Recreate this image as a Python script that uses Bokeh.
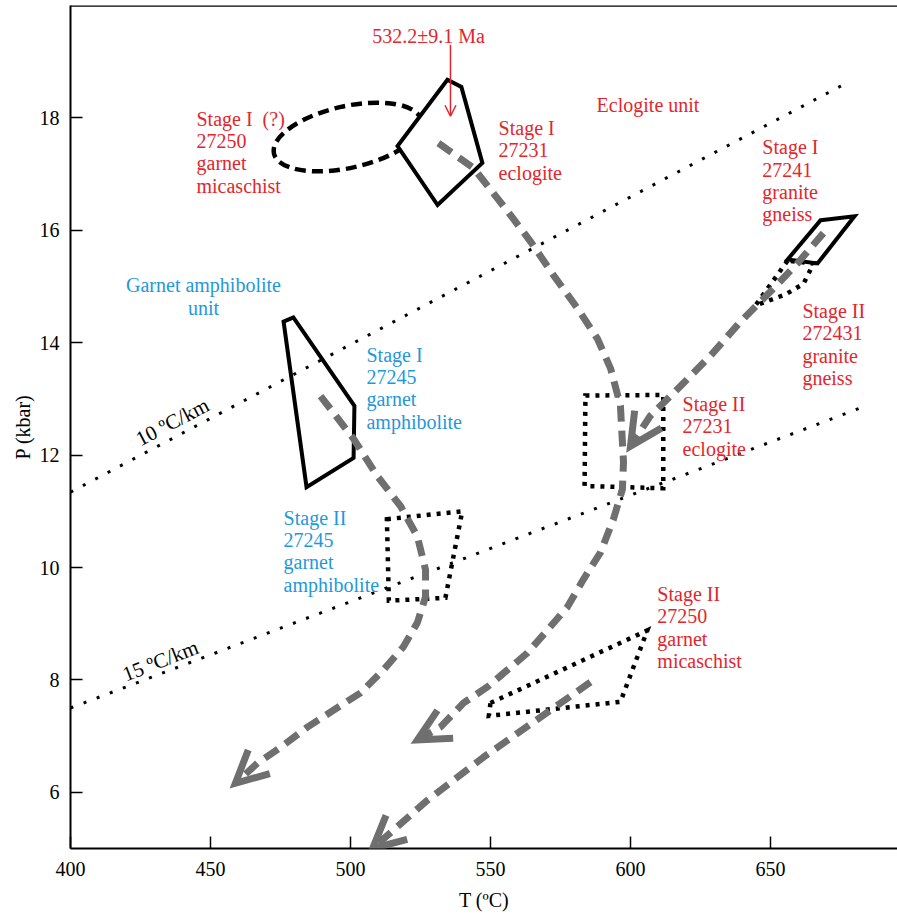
from bokeh.plotting import figure
from bokeh.models import Range1d, Span, Arrow, OpenHead, FixedTicker
from bokeh.core.properties import value
from bokeh.embed import file_html
from bokeh.resources import INLINE

# ---------------- data (T in degC, P in kbar) ----------------
x_ticks = [400, 450, 500, 550, 600, 650]
y_ticks = [6, 8, 10, 12, 14, 16, 18]

geo10_T = [400.0, 677.9]
geo10_P = [11.34, 18.64]
geo15_T = [400.0, 683.2]
geo15_P = [7.50, 12.86]

# Stage I (?) 27250 garnet micaschist ellipse: centre, size (degC, kbar), tilt
ell_T, ell_P, ell_w, ell_h, ell_tilt = 499.0, 17.66, 54.0, 1.10, 0.22

s1_27231_T = [534.6, 539.6, 547.1, 531.1, 516.8]
s1_27231_P = [18.68, 18.55, 17.20, 16.45, 17.50]

s1_27241_T = [667.9, 680.0, 666.8, 656.1]
s1_27241_P = [16.18, 16.25, 15.41, 15.48]

s2_272431_T = [656.1, 644.6, 655.4, 661.8, 665.4]
s2_272431_P = [15.46, 14.66, 14.86, 15.05, 15.41]

s1_27245_T = [476.1, 479.6, 501.4, 501.1, 484.3]
s1_27245_P = [14.375, 14.45, 12.875, 11.95, 11.43]

s2_27245_T = [513.0, 539.9, 533.9, 513.7]
s2_27245_P = [10.86, 11.00, 9.46, 9.41]

s2_27231_T = [583.9, 611.7, 611.7, 583.6]
s2_27231_P = [13.06, 13.07, 11.41, 11.45]

s2_27250_T = [550.0, 606.0, 596.4, 549.4]
s2_27250_P = [7.59, 8.88, 7.61, 7.36]

# retrograde P-T paths (grey dashed arrows)
path_ecl_T = [531.4, 543.9, 556.1, 564.3, 572.5, 581.1, 588.2, 592.9, 596.4, 597.5,
              597.1, 593.9, 589.3, 583.2, 577.5, 570.4, 563.2, 556.1, 548.9, 540.4,
              532.1, 523.9]
path_ecl_P = [17.55, 17.11, 16.34, 15.80, 15.20, 14.61, 14.07, 13.54, 12.88, 11.875,
              11.39, 10.86, 10.27, 9.79, 9.30, 8.89, 8.48, 8.18, 7.875, 7.59,
              7.16, 6.93]
path_amp_T = [489.3, 501.1, 509.6, 517.9, 523.9, 526.8, 526.8, 523.9, 518.9, 511.8,
              503.6, 493.9, 484.6, 475.0, 466.8, 458.9]
path_amp_P = [13.05, 12.29, 11.625, 11.09, 10.55, 9.96, 9.48, 9.02, 8.59, 8.18,
              7.77, 7.46, 7.16, 6.80, 6.52, 6.16]
path_gns_T = [668.9, 659.6, 650.0, 639.3, 628.6, 617.9, 607.1, 600.0]
path_gns_P = [15.95, 15.41, 14.91, 14.375, 13.77, 13.23, 12.70, 12.16]
path_mic_T = [585.7, 547.5, 527.5, 507.9]
path_mic_P = [7.96, 6.625, 5.86, 5.0]

# age arrow
age_T = [535.7, 535.7]
age_P = [19.30, 18.03]

red_text = ["Stage I\u00a0 (?)\n27250\ngarnet\nmicaschist",
            "Stage I\n27231\neclogite",
            "Eclogite unit",
            "Stage I\n27241\ngranite\ngneiss",
            "Stage II\n272431\ngranite\ngneiss",
            "Stage II\n27231\neclogite",
            "Stage II\n27250\ngarnet\nmicaschist"]
red_T = [445.0, 552.9, 587.9, 647.1, 661.4, 618.6, 609.6]
red_P = [17.39, 17.42, 18.23, 16.88, 13.97, 12.51, 8.93]

age_text = "532.2±9.1 Ma"
age_text_T, age_text_P = 527.9, 19.46

blue_unit_text = "Garnet amphibolite\nunit"
blue_unit_T, blue_unit_P = 447.5, 14.82
blue_text = ["Stage I\n27245\ngarnet\namphibolite",
             "Stage II\n27245\ngarnet\namphibolite"]
blue_T = [505.7, 476.1]
blue_P = [13.19, 10.29]

geo_text = ["10 ºC/km", "15 ºC/km"]
geo_text_T = [436.4, 432.1]
geo_text_P = [12.59, 8.34]
geo_text_angle = [0.48, 0.375]

x_title = "T (ºC)"
y_title = "P (kbar)"

# ---------------- styling ----------------
FONT = "Liberation Serif"
RED = "#e3262d"
BLUE = "#1f98dc"
GREY = "#6f6f6f"
FS = "20px"
LH = 1.02

p = figure(width=897, height=915, x_range=Range1d(400, 695.36), y_range=Range1d(5, 20),
           output_backend="svg", toolbar_location=None, title=None,
           min_border_left=70, min_border_right=0, min_border_top=5, min_border_bottom=67)
p.background_fill_color = "white"
p.border_fill_color = "white"
p.outline_line_color = None
p.xgrid.visible = False
p.ygrid.visible = False

for ax in (p.xaxis[0], p.yaxis[0]):
    ax.axis_line_width = 2
    ax.axis_line_color = "black"
    ax.major_tick_in = 12
    ax.major_tick_out = 0
    ax.major_tick_line_width = 1.5
    ax.minor_tick_line_color = None
    ax.major_label_text_font = FONT
    ax.major_label_text_font_size = FS
    ax.major_label_text_color = "black"
    ax.axis_label_text_font = FONT
    ax.axis_label_text_font_size = FS
    ax.axis_label_text_font_style = "normal"
    ax.axis_label_text_color = "black"
p.xaxis[0].ticker = FixedTicker(ticks=x_ticks)
p.yaxis[0].ticker = FixedTicker(ticks=y_ticks)
p.xaxis[0].major_label_standoff = 13
p.yaxis[0].major_label_standoff = 11
p.xaxis[0].axis_label = x_title
p.yaxis[0].axis_label = y_title
p.xaxis[0].axis_label_standoff = 10
p.yaxis[0].axis_label_standoff = 3

p.add_layout(Span(location=20, dimension="width", line_color="black", line_width=2.5))

# geotherms
for gx, gy in ((geo10_T, geo10_P), (geo15_T, geo15_P)):
    p.line(gx, gy, line_color="black", line_width=3, line_dash="3 11", line_cap="butt")

# ellipse (dashed)
p.ellipse(x=[ell_T], y=[ell_P], width=[ell_w], height=[ell_h], angle=[ell_tilt],
          fill_color=None, line_color="black", line_width=4.5, line_dash="11 6")

# solid polygons
p.patch(s1_27231_T, s1_27231_P, fill_color="white", line_color="black", line_width=4, line_join="miter")
p.patch(s1_27241_T, s1_27241_P, fill_color=None, line_color="black", line_width=4, line_join="miter")
p.patch(s1_27245_T, s1_27245_P, fill_color=None, line_color="black", line_width=4, line_join="miter")

# dotted polygons
for px_, py_ in ((s2_272431_T, s2_272431_P), (s2_27245_T, s2_27245_P),
                 (s2_27231_T, s2_27231_P), (s2_27250_T, s2_27250_P)):
    p.patch(px_, py_, fill_color=None, line_color="black", line_width=4.5, line_dash="4 6",
            line_join="miter")

# grey retrograde paths
for tx, ty in ((path_ecl_T, path_ecl_P), (path_amp_T, path_amp_P),
               (path_gns_T, path_gns_P), (path_mic_T, path_mic_P)):
    p.line(tx, ty, line_color=GREY, line_width=7, line_dash="16 9", line_cap="butt")
    p.add_layout(Arrow(end=OpenHead(size=32, line_color=GREY, line_width=7, line_join="miter"),
                       x_start=tx[-2], y_start=ty[-2], x_end=tx[-1], y_end=ty[-1],
                       line_alpha=0))

# age arrow
p.add_layout(Arrow(end=OpenHead(size=11, line_color=RED, line_width=1.5),
                   x_start=age_T[0], y_start=age_P[0], x_end=age_T[1], y_end=age_P[1],
                   line_color=RED, line_width=1.5))

# texts
p.text(x=red_T, y=red_P, text=red_text, text_font=value(FONT), text_font_size=FS,
       text_color=RED, text_align="left", text_baseline="middle", text_line_height=LH)
p.text(x=[age_text_T], y=[age_text_P], text=[age_text], text_font=value(FONT), text_font_size=FS,
       text_color=RED, text_align="center", text_baseline="middle")
p.text(x=[blue_unit_T], y=[blue_unit_P], text=[blue_unit_text], text_font=value(FONT),
       text_font_size=FS, text_color=BLUE, text_align="center", text_baseline="middle",
       text_line_height=LH)
p.text(x=blue_T, y=blue_P, text=blue_text, text_font=value(FONT), text_font_size=FS,
       text_color=BLUE, text_align="left", text_baseline="middle", text_line_height=LH)
p.text(x=geo_text_T, y=geo_text_P, text=geo_text, angle=geo_text_angle, text_font=value(FONT),
       text_font_size="21px", text_color="black", text_align="center", text_baseline="middle")

open("out.html", "w").write(file_html(p, INLINE))
